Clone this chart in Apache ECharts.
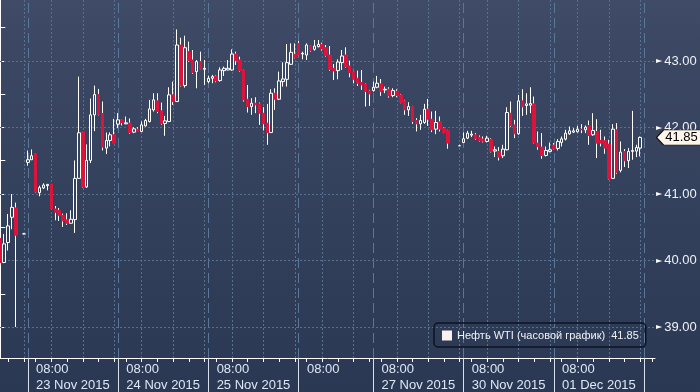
<!DOCTYPE html>
<html><head><meta charset="utf-8">
<script src="https://cdn.jsdelivr.net/npm/echarts@6/dist/echarts.min.js"></script>
<style>html,body{margin:0;padding:0;background:#2e3b57;}#c{width:700px;height:392px;}</style>
</head><body><div id="c"></div>
<script>
// hourly slots (trading-hour index), OHLC
const slots = [0,1,2,3,4,6,7,8,9,10,11,12,13,14,15,16,17,18,19,20,21,22,23,24,25,26,27,28,29,30,31,32,33,34,35,36,37,38,39,40,41,42,43,44,45,46,47,48,49,50,51,52,53,54,55,56,57,58,59,60,61,62,63,64,65,66,67,68,69,70,71,72,73,74,75,76,77,78,79,80,81,82,83,84,85,86,87,88,89,90,91,92,93,94,95,96,97,98,99,100,101,102,103,104,105,106,107,108,109,110,111,112,113,114,117,118,119,120,121,122,123,124,125,126,127,128,129,130,131,132,133,134,135,136,137,138,139,140,141,142,143,144,145,146,147,148,149,150,151,152,153,154,155,156,157,158,159,160,161,162,163];
const opens = [40.33,39.97,40.27,40.65,40.79,40.40,41.475,41.515,41.605,41.02,41.09,41.125,41.145,40.775,40.755,40.68,40.61,40.56,40.615,41.235,41.94,41.105,41.505,42.19,42.495,42.21,41.69,41.805,41.89,42.05,42.115,42.055,42.065,41.93,41.975,41.94,42.025,42.09,42.265,42.4,42.25,42.06,42.09,42.49,42.39,43.24,42.63,43.14,43.015,42.84,42.99,42.875,42.69,42.74,42.775,42.705,42.855,42.865,42.865,43.105,43.015,42.865,42.425,42.315,42.365,42.355,42.215,42.065,41.925,42.515,42.425,42.69,42.725,42.95,43.1,43.265,43.105,43.09,43.23,43.175,43.215,43.25,43.2,43.09,42.89,42.855,42.975,43.09,42.925,42.845,42.74,42.675,42.655,42.55,42.555,42.605,42.655,42.565,42.575,42.48,42.545,42.49,42.4,42.265,42.315,42.105,42.055,42.075,42.275,42.125,41.975,42.085,41.985,41.955,41.725,41.775,41.84,41.885,41.89,41.855,41.825,41.79,41.825,41.645,41.64,41.575,41.665,42.215,42.04,41.905,42.4,42.33,42.335,42.355,41.765,41.705,41.58,41.64,41.735,41.685,41.775,41.825,41.905,41.93,41.935,41.975,41.965,42.03,41.89,41.94,41.805,41.8,41.75,41.235,41.965,41.355,41.64,41.5,41.64,41.645,41.69];
const highs = [40.43,40.40,40.70,41.00,40.87,40.415,41.655,41.67,41.61,41.125,41.16,41.145,41.15,40.82,40.79,40.705,40.71,40.755,41.505,42.765,41.94,41.745,42.435,42.63,42.58,42.39,41.925,41.925,42.13,42.215,42.12,42.165,42.135,42.005,42.005,42.09,42.13,42.415,42.515,42.515,42.375,42.175,42.605,42.69,43.475,43.35,43.38,43.29,43.165,43.015,43.14,43.015,42.78,42.79,42.79,42.905,42.915,43.015,43.175,43.14,43.065,42.87,42.64,42.44,42.455,42.375,42.305,42.355,42.575,42.59,42.84,42.98,43.255,43.265,43.265,43.3,43.14,43.265,43.24,43.315,43.315,43.275,43.24,43.225,42.955,43.025,43.165,43.205,43.005,42.855,42.855,42.865,42.665,42.565,42.69,42.775,42.73,42.615,42.605,42.59,42.575,42.505,42.415,42.38,42.325,42.14,42.19,42.355,42.43,42.24,42.25,42.165,42.0,41.965,41.74,41.925,41.95,41.95,41.915,41.88,41.865,41.875,41.84,41.715,41.705,41.74,42.305,42.39,42.115,42.49,42.575,42.515,42.605,42.465,41.94,41.915,41.715,41.775,41.765,41.825,41.865,41.965,42.015,41.99,42.025,42.05,42.03,42.105,42.215,42.125,41.965,41.865,41.815,42.05,42.065,41.79,41.675,41.69,42.25,41.74,41.865];
const lows = [39.96,39.96,40.15,40.47,39.00,40.40,41.425,41.51,41.02,40.965,41.075,41.055,40.77,40.605,40.595,40.505,40.535,40.56,40.415,41.235,41.095,41.09,41.465,41.945,42.18,41.655,41.6,41.715,41.765,41.99,42.03,42.05,41.905,41.915,41.935,41.93,42.015,42.075,42.24,42.215,42.04,41.875,42.08,42.34,42.39,42.615,42.6,42.99,42.805,42.59,42.87,42.64,42.665,42.665,42.68,42.69,42.775,42.86,42.855,42.94,42.84,42.39,42.225,42.19,42.215,42.04,41.955,41.74,41.915,42.265,42.415,42.615,42.615,42.94,43.04,43.085,43.025,43.015,43.14,43.155,43.205,43.155,43.065,42.855,42.715,42.725,42.865,42.9,42.755,42.665,42.625,42.565,42.315,42.325,42.54,42.59,42.475,42.515,42.45,42.455,42.455,42.365,42.19,42.175,42.055,41.94,41.965,42.055,42.025,41.93,41.9,41.94,41.915,41.68,41.725,41.765,41.825,41.855,41.815,41.79,41.775,41.775,41.625,41.555,41.505,41.54,41.655,42.005,41.84,41.89,42.175,42.19,42.215,41.755,41.665,41.53,41.565,41.625,41.665,41.655,41.715,41.805,41.89,41.915,41.925,41.915,41.915,41.74,41.875,41.54,41.715,41.605,41.215,41.225,41.305,41.325,41.405,41.39,41.515,41.555,41.565];
const closes = [39.97,40.25,40.52,40.80,40.38,40.40,41.515,41.575,41.03,41.095,41.135,41.145,40.775,40.725,40.68,40.595,40.56,40.62,41.235,41.92,41.105,41.505,42.19,42.495,42.19,41.705,41.805,41.89,41.765,42.115,42.075,42.07,41.925,41.98,41.94,42.04,42.105,42.28,42.415,42.24,42.055,42.1,42.49,42.39,43.24,42.63,43.2,43.005,42.825,42.99,42.875,42.89,42.74,42.765,42.7,42.865,42.89,42.89,43.105,43.005,42.855,42.415,42.315,42.365,42.34,42.215,42.055,41.925,42.515,42.425,42.7,42.73,42.975,43.13,43.05,43.09,43.115,43.24,43.155,43.225,43.25,43.18,43.08,42.875,42.85,42.985,43.075,42.915,42.825,42.725,42.665,42.64,42.54,42.505,42.605,42.665,42.54,42.575,42.475,42.555,42.48,42.375,42.265,42.315,42.09,42.055,42.105,42.275,42.125,41.965,42.075,41.975,41.925,41.765,41.725,41.83,41.915,41.9,41.83,41.805,41.795,41.84,41.64,41.665,41.555,41.675,42.225,42.025,41.905,42.4,42.31,42.355,42.36,41.765,41.715,41.58,41.655,41.665,41.675,41.79,41.83,41.915,41.95,41.95,41.975,41.965,42.005,41.88,41.955,41.765,41.765,41.69,41.225,41.975,41.325,41.63,41.5,41.64,41.655,41.7,41.85];
// first slot of each trading session (02:00) and the date shown under its 08:00 label
const sessionStarts = [7, 30, 53, 76, 95, 118, 141, 164];
const sessionDates = ['23 Nov 2015', '24 Nov 2015', '25 Nov 2015', '', '27 Nov 2015', '30 Nov 2015', '01 Dec 2015'];
const priceLabels = [39, 40, 41, 42, 43];
const priceTicks = [39, 39.5, 40, 40.5, 41, 41.5, 42, 42.5, 43, 43.5];
const seriesName = 'Нефть WTI (часовой график)';

const X_MIN = -0.08, X_MAX = 166.76, Y_MIN = 38.534, Y_MAX = 43.917;

function hourOf(s) {
  let S = null;
  for (const st of sessionStarts) if (st <= s) S = st;
  if (S === null) return (24 + 1 - (sessionStarts[0] - s)) % 24;
  return (2 + s - S) % 24;
}
const allSlots = [];
for (let s = 0; s <= Math.floor(X_MAX); s++) allSlots.push(s);
const tickSlots = allSlots.filter(s => hourOf(s) % 4 === 0);
const dottedSlots = allSlots.filter(s => hourOf(s) % 8 === 0);
const labelMap = {};
const labelVals = [];
sessionDates.forEach((d, i) => {
  const v = +(sessionStarts[i] + 6 - 3.9).toFixed(2);
  labelVals.push(v);
  labelMap[v.toFixed(2)] = d ? '{t|08:00}\n{d|' + d + '}' : '{t|08:00}';
});

const bgStops = [{offset: 0, color: '#404c67'}, {offset: 0.12, color: '#3b4763'}, {offset: 0.5, color: '#34415d'}, {offset: 1, color: '#2b3853'}];
const bodyData = slots.map((s, i) => [s, opens[i], closes[i], Math.min(opens[i], closes[i]), Math.max(opens[i], closes[i])]);
const wickData = slots.map((s, i) => { const m = (opens[i] + closes[i]) / 2; return [s, m, m, lows[i], highs[i]]; });
const lastClose = closes[closes.length - 1];

const vLines = dottedSlots.map(s => ({xAxis: s, lineStyle: {type: [2, 2], color: '#58708f', width: 1}}))
  .concat(sessionStarts.filter(s => s <= X_MAX).map(s => ({xAxis: s, lineStyle: {type: [10, 5], color: '#5a7699', width: 1}})))
  .concat(priceLabels.map(p => ({yAxis: p, lineStyle: {type: [2, 2], color: '#58708f', width: 1}})));

const chart = echarts.init(document.getElementById('c'), null, {renderer: 'canvas'});
chart.setOption({
  animation: false,
  backgroundColor: {type: 'linear', x: 0, y: 0, x2: 0, y2: 1, colorStops: bgStops},
  textStyle: {fontFamily: 'Liberation Sans'},
  grid: {left: 0, right: 45, top: 0, bottom: 34, outerBoundsMode: 'none', containLabel: false},
  legend: {
    left: 434, top: 323, padding: [7, 7, 6, 8],
    borderColor: '#0c1322', borderWidth: 1.5, borderRadius: 4, backgroundColor: 'rgba(0,0,0,0)',
    itemWidth: 10, itemHeight: 10,
    data: [{name: seriesName, icon: 'rect', itemStyle: {color: '#fcf0ee', borderWidth: 0}}],
    formatter: n => n + '  ' + lastClose.toFixed(2),
    textStyle: {color: '#f0f2f6', fontSize: 11, fontFamily: 'Liberation Sans'}
  },
  xAxis: [{
    type: 'value', min: X_MIN, max: X_MAX, position: 'bottom',
    axisLine: {show: true, lineStyle: {color: '#ffffff', width: 1}},
    axisTick: {show: true, customValues: tickSlots, length: 4, lineStyle: {color: '#ffffff'}},
    axisLabel: {
      show: true, customValues: labelVals, align: 'left', verticalAlign: 'top', margin: 3,
      formatter: v => labelMap[(+v).toFixed(2)] || '',
      rich: {
        t: {color: '#dde7f6', fontSize: 13, lineHeight: 16, fontFamily: 'Liberation Sans', align: 'left'},
        d: {color: '#dde7f6', fontSize: 13, lineHeight: 16, fontFamily: 'Liberation Sans', align: 'left'}
      }
    },
    splitLine: {show: false}
  }, {
    type: 'value', min: X_MIN, max: X_MAX, position: 'bottom',
    axisLine: {show: false},
    axisTick: {show: true, customValues: sessionStarts, length: 34, lineStyle: {color: '#d8e0ec'}},
    axisLabel: {show: false},
    splitLine: {show: false}
  }],
  yAxis: {
    type: 'value', min: Y_MIN, max: Y_MAX, position: 'right', scale: true,
    axisLine: {show: true, lineStyle: {color: '#ffffff', width: 1}},
    axisTick: {show: true, customValues: priceTicks, length: 5, lineStyle: {color: '#ffffff'}},
    axisLabel: {
      show: true, customValues: priceLabels, margin: 1,
      formatter: v => '{a|\u25BA}{b|' + (+v).toFixed(2) + '}',
      rich: {
        a: {fontFamily: 'DejaVu Sans', fontSize: 8, color: '#ffffff', verticalAlign: 'middle'},
        b: {fontFamily: 'Liberation Sans', fontSize: 13, color: '#eef1f6', padding: [0, 0, 0, 2], verticalAlign: 'middle'}
      }
    },
    splitLine: {show: false}
  },
  series: [{
    name: 'wick', type: 'candlestick', xAxisIndex: 0, data: wickData, encode: {x: 0, y: [1, 2, 3, 4]},
    barWidth: 1, z: 3,
    itemStyle: {color: '#ffffff', color0: '#ffffff', borderColor: '#ffffff', borderColor0: '#ffffff', borderColorDoji: '#ffffff', borderWidth: 1},
    markLine: {silent: true, symbol: 'none', z: 1, label: {show: false}, data: vLines}
  }, {
    name: seriesName, type: 'candlestick', xAxisIndex: 0, data: bodyData, encode: {x: 0, y: [1, 2, 3, 4]},
    barWidth: 3, z: 4,
    itemStyle: {
      color: {type: 'linear', x: 0, y: 0, x2: 0, y2: 392, global: true, colorStops: bgStops},
      color0: '#dc143c', borderColor: '#ffffff', borderColor0: '#dc143c', borderColorDoji: '#ffffff', borderWidth: 1
    },
    markPoint: {
      silent: true, z: 20,
      data: [{coord: [X_MAX, lastClose], value: lastClose}],
      symbol: 'path://M0,7.5 L7,0 L46,0 L46,15 L7,15 Z', symbolSize: [46, 15], symbolOffset: [24.5, 0],
      itemStyle: {color: '#fdf5ea', borderColor: '#151515', borderWidth: 1},
      label: {show: true, position: 'inside', offset: [2, 0], formatter: () => lastClose.toFixed(2), color: '#000000', fontSize: 13, fontFamily: 'Liberation Sans'}
    }
  }]
});
</script></body></html>
